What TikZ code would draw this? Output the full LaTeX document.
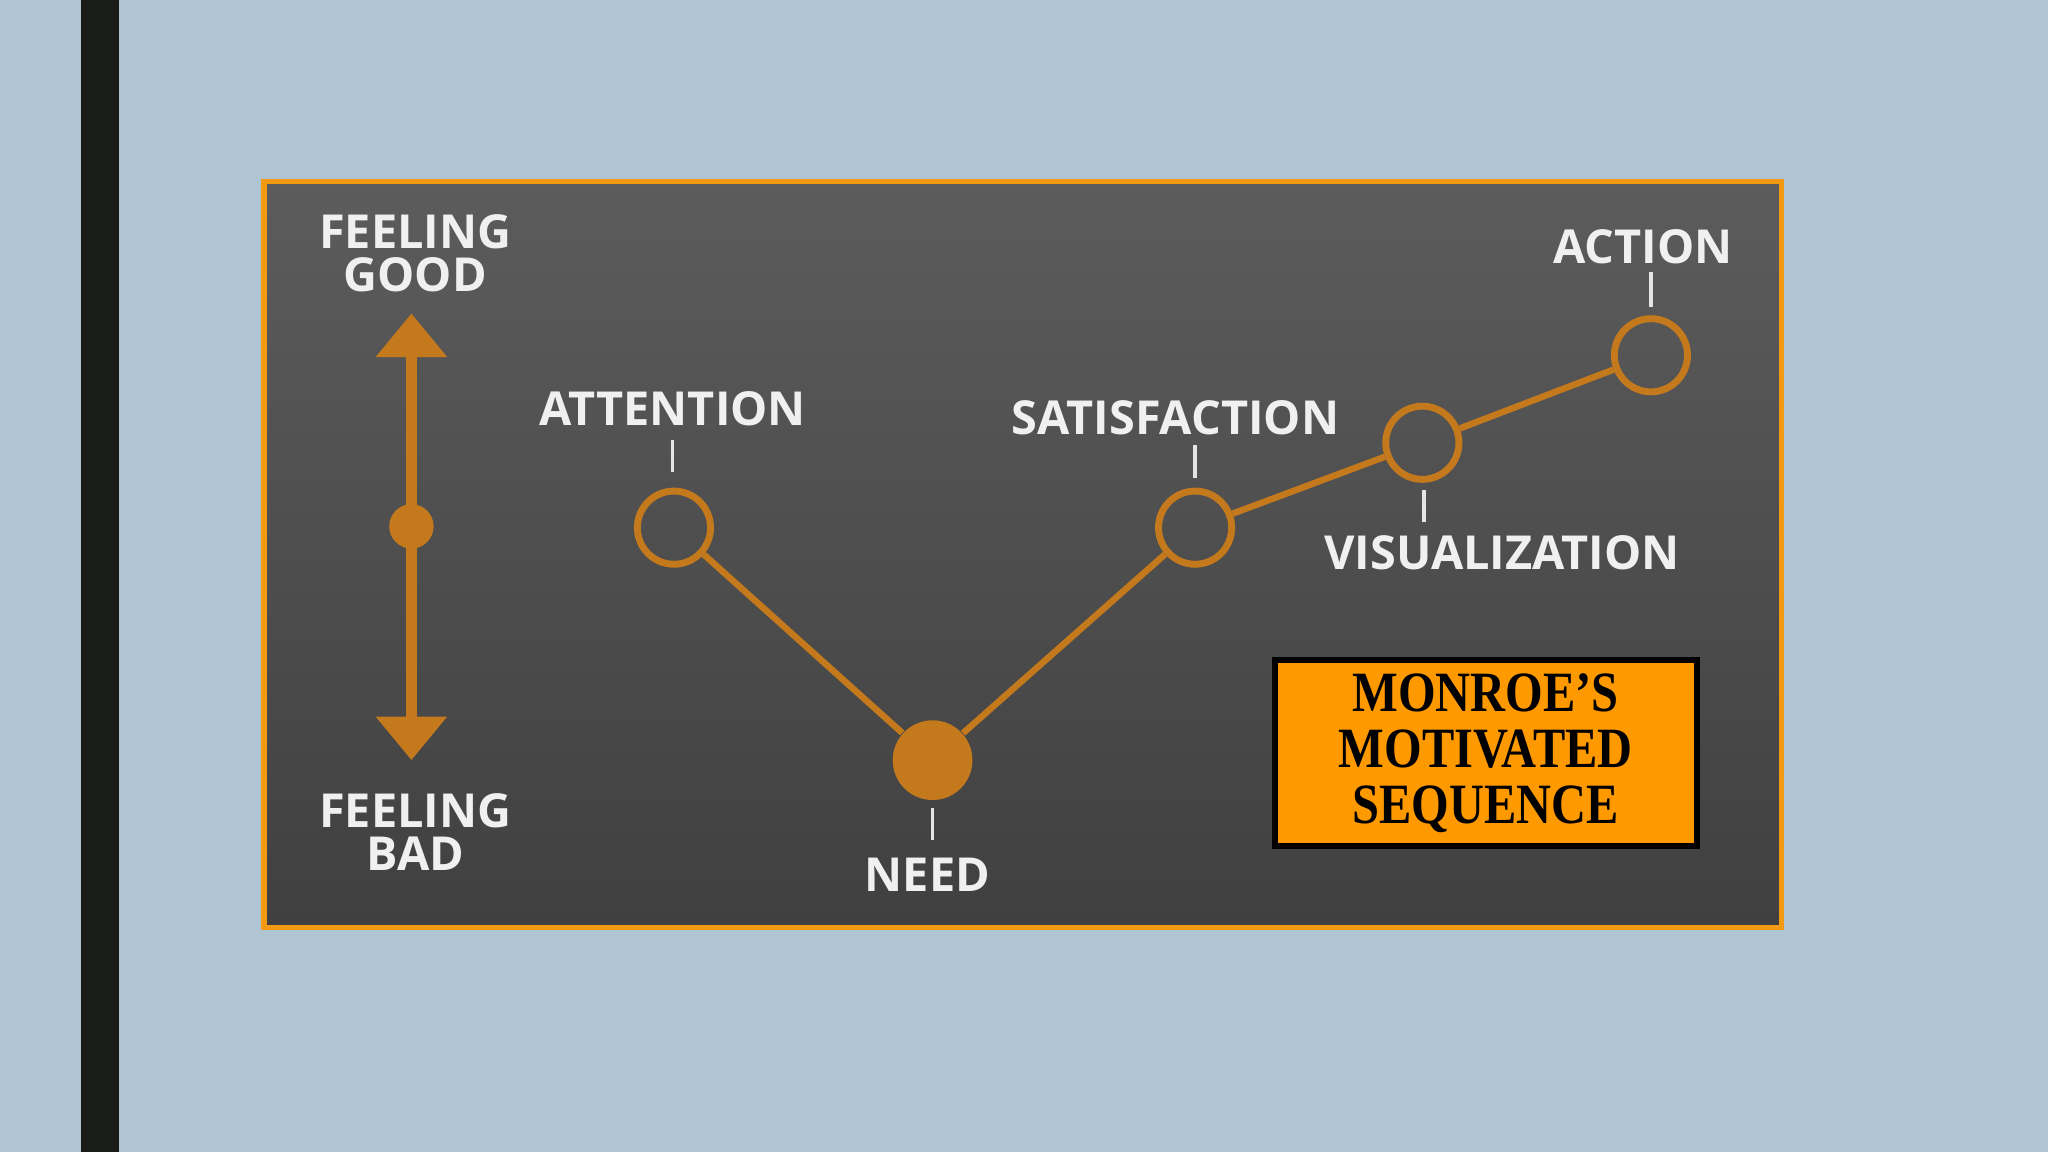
\documentclass[tikz,border=0pt]{standalone}
\usepackage{fontspec}
\usepackage{graphicx}
\newfontfamily\lab{Open Sans Bold}
\newfontfamily\boxf{Liberation Serif Bold}
\usetikzlibrary{arrows.meta}
\definecolor{bg}{HTML}{AFC5D3}
\definecolor{bar}{HTML}{1A1D17}
\definecolor{frame}{HTML}{F39A12}
\definecolor{og}{HTML}{C47A1C}
\definecolor{box}{HTML}{FF9900}
\begin{document}
\begin{tikzpicture}[x=0.01cm,y=-0.01cm,
  lbl/.style={font=\lab\fontsize{10.2}{11.5}\selectfont,text=white!94!black,align=center,inner sep=0},
  ring/.style={circle,draw=og,line width=1.5pt,minimum size=0.56cm,inner sep=0},
  tick/.style={draw=white!90!black,line width=0.8pt},
  link/.style={draw=og,line width=1.4pt}]
\useasboundingbox (0,0) rectangle (1568,882);
\fill[bg] (0,0) rectangle (1568,882);
\fill[bar] (62,0) rectangle (91,882);
\shade[top color=black!64,bottom color=black!75,draw=frame,line width=1.2pt] (202,139) rectangle (1364,710);
% axis
\coordinate (gt) at (315,240); \coordinate (bt) at (315,582);
\draw[og,line width=2.3pt,{Triangle[width=15pt,length=9.5pt]}-{Triangle[width=15pt,length=9.5pt]}] (gt) -- (bt);
\fill[og] (315,403) circle (17);
\node[lbl] (fg) at (318,194) {FEELING\\[-2pt]GOOD};
\node[lbl] (fb) at (318,637) {FEELING\\[-2pt]BAD};
% points
\node[ring] (att) at (516,404) {};
\node[circle,fill=og,minimum size=0.61cm,inner sep=0] (need) at (714,582) {};
\node[ring] (sat) at (915,404) {};
\node[ring] (vis) at (1089,339) {};
\node[ring] (act) at (1264,272) {};
\draw[link] (att) -- (need) -- (sat) -- (vis) -- (act);
% ticks
\coordinate (t1a) at (515,337); \coordinate (t1b) at (515,361);
\coordinate (t2a) at (915,341); \coordinate (t2b) at (915,366);
\coordinate (t3a) at (1090,375); \coordinate (t3b) at (1090,400);
\coordinate (t4a) at (1264,208); \coordinate (t4b) at (1264,235);
\coordinate (t5a) at (714,619); \coordinate (t5b) at (714,643);
\draw[tick] (t1a)--(t1b) (t2a)--(t2b) (t3a)--(t3b) (t4a)--(t4b) (t5a)--(t5b);
\node[lbl] (la) at (515,313) {ATTENTION};
\node[lbl] (ls) at (900,320) {SATISFACTION};
\node[lbl] (lv) at (1150,423) {VISUALIZATION};
\node[lbl] (lac) at (1258,189) {ACTION};
\node[lbl] (ln) at (710,670) {NEED};
% box
\node[draw=black,fill=box,line width=1.3pt,minimum width=3.23cm,minimum height=1.43cm,
  align=center,font=\boxf\fontsize{12.4}{12.2}\selectfont,inner sep=0] (mb) at (1137.5,576.5)
  {\scalebox{0.85}[1]{MONROE’S}\\\scalebox{0.85}[1]{MOTIVATED}\\\scalebox{0.85}[1]{SEQUENCE}};
\end{tikzpicture}
\end{document}
